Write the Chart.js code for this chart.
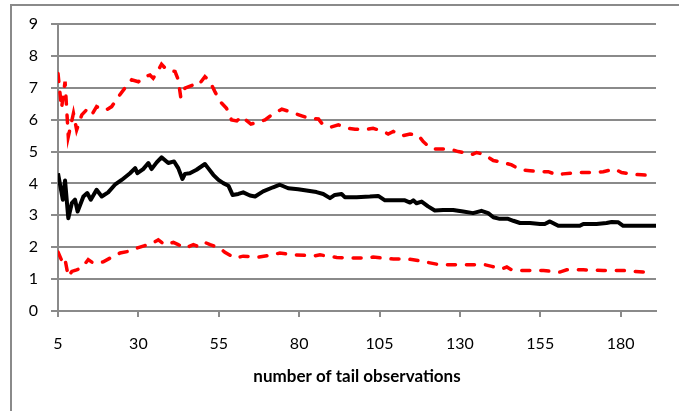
<!DOCTYPE html>
<html lang="en">
<head>
    <meta charset="UTF-8">
    <title>Tail observations</title>
    <script src="https://cdn.jsdelivr.net/npm/chart.js@4"></script>
    <style>
        body { margin: 0; background: #fff; }
        #frame { position: absolute; left: 10px; top: 4px; width: 800px; height: 500px; border: 2px solid #8a8a8a; }
        #wrap { position: absolute; left: 0; top: 0; width: 679px; height: 411px; }
    </style>
</head>
<body>
<div id="frame"></div>
<div id="wrap"><canvas id="tailChart" width="679" height="411"></canvas></div>

<script>
    // x = number of tail observations, y = estimate
    const estN = [5, 6.5, 7.2, 8.2, 9.3, 10.3, 11.1, 12.9, 14.1, 15.2, 17, 18.6, 20.6, 22.7, 24.8, 27.4, 29, 29.7, 31.5, 33.1,
        34.1, 35.7, 37.2, 39.3, 41.1, 42.4, 43.7, 44.5, 46, 48.1, 50.7, 51.7, 53.3, 54.9, 56.4, 58, 59.3, 61.1, 62.6, 64.7,
        66.3, 68.8, 71.9, 74, 76.6, 79.7, 82.3, 85.4, 87.5, 89.6, 91.1, 93.2, 94.2, 97.9, 102, 104.6, 106.7, 110.3, 112.9, 114.5,
        115.5, 116.5, 118.1, 120.1, 122.2, 124.8, 127.9, 131, 134.1, 136.7, 138.8, 140.4, 142.4, 145, 146.6, 148.7, 151.8, 154.9, 156.4, 158,
        160.6, 164.2, 167.3, 168.4, 172.5, 175.6, 177.2, 179.3, 180.8, 185, 191];
    const estV = [4.32, 3.49, 4.09, 2.91, 3.38, 3.49, 3.12, 3.59, 3.70, 3.49, 3.80, 3.59, 3.72, 3.96, 4.11, 4.32, 4.48, 4.32, 4.45, 4.64,
        4.45, 4.66, 4.82, 4.64, 4.69, 4.48, 4.14, 4.30, 4.32, 4.43, 4.61, 4.48, 4.27, 4.11, 4.01, 3.93, 3.64, 3.67, 3.72, 3.62,
        3.59, 3.75, 3.88, 3.96, 3.85, 3.82, 3.78, 3.73, 3.67, 3.54, 3.64, 3.67, 3.57, 3.57, 3.59, 3.61, 3.47, 3.47, 3.47, 3.40,
        3.47, 3.38, 3.43, 3.28, 3.15, 3.17, 3.17, 3.12, 3.07, 3.14, 3.07, 2.94, 2.89, 2.89, 2.83, 2.76, 2.76, 2.73, 2.73, 2.81,
        2.67, 2.67, 2.67, 2.73, 2.73, 2.76, 2.79, 2.78, 2.67, 2.67, 2.67];

    const upperN = [5, 6.1, 7.2, 8.2, 9.8, 10.8, 12.4, 13.9, 15.5, 17, 18.6, 20.1, 21.7, 23.8, 25.8, 27.9, 30, 32, 33.6, 34.6,
        35.7, 37.2, 38.8, 41.4, 42.4, 43.2, 44.5, 47.1, 48.6, 50.7, 52.3, 53.8, 55.4, 57.4, 59, 60.6, 62.1, 65, 69.4, 71.4,
        74.6, 77.1, 80.8, 82.8, 86, 87, 89.6, 92.2, 95.3, 97.4, 101, 103, 106.2, 107.7, 109.3, 111.9, 114.5, 117, 118.6, 121.2,
        126.9, 129.5, 132.1, 133.6, 135.2, 137.8, 139.3, 140.4, 143.5, 146.1, 148.7, 151.8, 154.9, 157.5, 160.1, 162.1, 166.3, 168.9, 172.5, 174.6,
        178.2, 180.3, 183.4, 186.5, 191];
    const upperV = [7.45, 6.36, 7.19, 5.47, 6.20, 5.68, 6.15, 6.31, 6.15, 6.41, 6.31, 6.31, 6.41, 6.72, 6.99, 7.25, 7.19, 7.35, 7.40, 7.30,
        7.46, 7.74, 7.56, 7.51, 7.25, 6.69, 6.99, 7.09, 7.07, 7.35, 7.19, 6.88, 6.57, 6.36, 5.99, 5.96, 6.10, 5.86, 5.99, 6.15,
        6.33, 6.25, 6.12, 6.05, 6.02, 5.89, 5.76, 5.84, 5.73, 5.70, 5.70, 5.73, 5.63, 5.55, 5.63, 5.49, 5.55, 5.52, 5.31, 5.08,
        5.08, 5.00, 4.95, 4.90, 4.97, 4.90, 4.79, 4.72, 4.66, 4.58, 4.43, 4.40, 4.37, 4.37, 4.27, 4.30, 4.34, 4.34, 4.35, 4.37,
        4.45, 4.34, 4.29, 4.27, 4.24];

    const lowerN = [5, 6, 7, 8.2, 9.3, 10.8, 12.4, 14.4, 16, 19.1, 21.2, 24.3, 26.9, 29.5, 32, 34.1, 36.2, 38.2, 40.9, 42.4,
        44.5, 47.1, 48.6, 50.7, 52.3, 55.4, 56.9, 60, 62.6, 67.3, 71.9, 74, 78.7, 84.9, 86.5, 91.7, 96.8, 101, 103, 106.2,
        109.3, 113.4, 115.5, 120.1, 123.8, 125.9, 132.6, 137.8, 139.9, 143, 144.6, 146.1, 149.7, 156, 161.1, 163.2, 168.4, 174.6, 180.8, 187,
        190];
    const lowerV = [1.85, 1.62, 1.72, 1.08, 1.24, 1.29, 1.35, 1.61, 1.50, 1.54, 1.66, 1.82, 1.87, 1.97, 2.05, 2.11, 2.23, 2.08, 2.15, 2.08,
        1.97, 2.08, 2.02, 2.15, 2.08, 1.97, 1.84, 1.66, 1.72, 1.69, 1.76, 1.82, 1.76, 1.73, 1.76, 1.68, 1.66, 1.66, 1.69, 1.66,
        1.63, 1.63, 1.61, 1.52, 1.45, 1.45, 1.45, 1.45, 1.40, 1.32, 1.38, 1.29, 1.27, 1.27, 1.22, 1.29, 1.29, 1.27, 1.27, 1.22,
        1.22];

    const xTicks = [5, 30, 55, 80, 105, 130, 155, 180];
    const xTitle = 'number of tail observations';

    const pts = (xs, ys) => xs.map((x, i) => ({x, y: ys[i]}));
    const gridGray = '#8a8a8a';
    const font = {family: 'Lato, "DejaVu Sans", sans-serif', size: 16};

    const redLine = (data) => ({
        data,
        borderColor: '#ff0000',
        borderWidth: 3.5,
        borderDash: [8, 11],
        borderCapStyle: 'round',
        pointRadius: 0,
        fill: false,
        tension: 0
    });

    new Chart(document.getElementById('tailChart'), {
        type: 'line',
        data: {
            datasets: [
                redLine(pts(upperN, upperV)),
                redLine(pts(lowerN, lowerV)),
                {
                    data: pts(estN, estV),
                    borderColor: '#000000',
                    borderWidth: 4,
                    borderJoinStyle: 'round',
                    pointRadius: 0,
                    fill: false,
                    tension: 0
                }
            ]
        },
        options: {
            responsive: false,
            animation: false,
            layout: {padding: {top: 24, right: 23, bottom: 20, left: 0}},
            plugins: {legend: {display: false}, tooltip: {enabled: false}},
            scales: {
                x: {
                    type: 'linear',
                    min: 5,
                    max: 191,
                    afterBuildTicks: (scale) => { scale.ticks = xTicks.map(v => ({value: v})); },
                    afterFit: (scale) => { scale.height = 80; },
                    grid: {drawOnChartArea: false, drawTicks: true, tickLength: 6, color: gridGray, lineWidth: 2},
                    border: {display: true, color: gridGray, width: 2},
                    ticks: {color: '#000', font, padding: 17, maxRotation: 0, autoSkip: false},
                    title: {display: true, text: xTitle, color: '#000',
                        font: {family: font.family, size: 17, weight: 'bold'}, padding: {top: 0, bottom: 4}}
                },
                y: {
                    min: 0,
                    max: 9,
                    afterFit: (scale) => { scale.width = 58; },
                    grid: {color: gridGray, lineWidth: 2, tickLength: 7},
                    border: {display: true, color: gridGray, width: 2},
                    ticks: {stepSize: 1, color: '#000', font, padding: 13}
                }
            }
        }
    });
</script>
</body>
</html>
